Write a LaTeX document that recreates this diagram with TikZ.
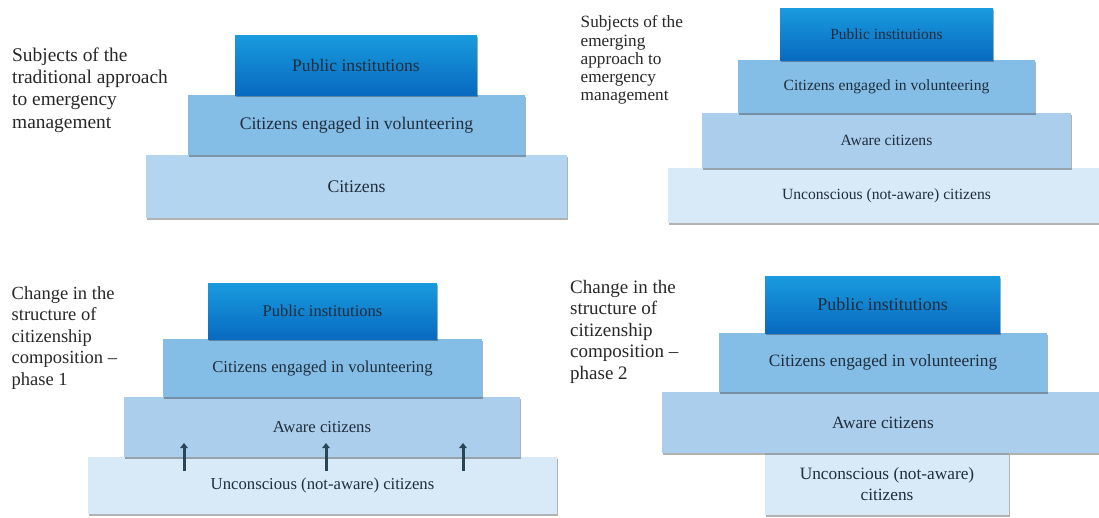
\documentclass[tikz,border=0pt]{standalone}
\usepackage{fontspec}
\setmainfont{Liberation Serif}
\usetikzlibrary{shadows,arrows.meta}
\definecolor{pubtop}{RGB}{25,155,222}
\definecolor{pubbot}{RGB}{8,106,192}
\definecolor{volc}{RGB}{132,190,231}
\definecolor{awarec}{RGB}{170,206,236}
\definecolor{citc}{RGB}{180,213,239}
\definecolor{unconc}{RGB}{216,233,247}
\definecolor{txtc}{RGB}{32,45,60}
\definecolor{ttlc}{RGB}{40,40,40}
\definecolor{arrc}{RGB}{42,70,86}
\tikzset{
  lay/.style={inner sep=0pt, text=txtc, align=center,
    drop shadow={shadow xshift=0.8pt, shadow yshift=-1.6pt, fill=black, opacity=0.3}},
  pubbox/.style={lay, top color=pubtop, bottom color=pubbot},
  volbox/.style={lay, fill=volc},
  awarebox/.style={lay, fill=awarec},
  citbox/.style={lay, fill=citc},
  unconbox/.style={lay, fill=unconc},
  ttl/.style={inner sep=0pt, anchor=north west, align=left, text=ttlc},
  uparr/.style={draw=arrc, line width=3pt, -{Triangle[length=5pt,width=7.5pt]}}
}
\begin{document}
\begin{tikzpicture}[x=1pt,y=-1pt]
\useasboundingbox (0,0) rectangle (1099,517);
\clip (0,0) rectangle (1099,517);
\fill[white] (0,0) rectangle (1099,517);
% ---------- Panel 1 ----------
\node[ttl, font=\fontsize{19.4}{22.3}\selectfont] (t1) at (12,47.5)
  {Subjects of the\\traditional approach\\to emergency\\management};
\node[citbox, minimum width=421pt, minimum height=63pt, font=\fontsize{17.7}{20}\selectfont] (p1cit) at (356.5,186.5) {Citizens};
\node[volbox, minimum width=337pt, minimum height=60pt, font=\fontsize{17.7}{20}\selectfont] (p1vol) at (356.5,125) {Citizens engaged in volunteering};
\node[pubbox, minimum width=242pt, minimum height=60pt, font=\fontsize{17.6}{20}\selectfont] (p1pub) at (356,65) {Public institutions};
% ---------- Panel 2 ----------
\node[ttl, font=\fontsize{17.2}{18.2}\selectfont] (t2) at (580.5,15.5)
  {Subjects of the\\emerging\\approach to\\emergency\\management};
\node[unconbox, minimum width=437pt, minimum height=55pt, font=\fontsize{15.6}{18}\selectfont] (p2unc) at (886.5,195.5) {Unconscious (not-aware) citizens};
\node[awarebox, minimum width=369pt, minimum height=55pt, font=\fontsize{15.6}{18}\selectfont] (p2aw) at (886.5,140.5) {Aware citizens};
\node[volbox, minimum width=297pt, minimum height=53pt, font=\fontsize{15.6}{18}\selectfont] (p2vol) at (886.5,86.5) {Citizens engaged in volunteering};
\node[pubbox, minimum width=213pt, minimum height=52pt, font=\fontsize{15.5}{18}\selectfont] (p2pub) at (886.5,34) {Public institutions};
% ---------- Panel 3 ----------
\node[ttl, font=\fontsize{18.5}{21.5}\selectfont] (t3) at (11.5,286)
  {Change in the\\structure of\\citizenship\\composition --\\phase 1};
\node[unconbox, minimum width=469pt, minimum height=57pt, font=\fontsize{16.7}{19}\selectfont] (p3unc) at (322.5,485.5) {Unconscious (not-aware) citizens};
\node[awarebox, minimum width=396pt, minimum height=60pt, font=\fontsize{16.7}{19}\selectfont] (p3aw) at (322,427) {Aware citizens};
\node[volbox, minimum width=319pt, minimum height=58pt, font=\fontsize{16.7}{19}\selectfont] (p3vol) at (322.5,368) {Citizens engaged in volunteering};
\node[pubbox, minimum width=229pt, minimum height=56pt, font=\fontsize{16.5}{19}\selectfont] (p3pub) at (322.5,311) {Public institutions};
\coordinate (a1s) at (184,471); \coordinate (a1e) at (184,443);
\coordinate (a2s) at (326,471); \coordinate (a2e) at (326,443);
\coordinate (a3s) at (463,471); \coordinate (a3e) at (463,443);
\draw[uparr] (a1s) -- (a1e);
\draw[uparr] (a2s) -- (a2e);
\draw[uparr] (a3s) -- (a3e);
% ---------- Panel 4 ----------
\node[ttl, font=\fontsize{19}{21.5}\selectfont] (t4) at (570,280)
  {Change in the\\structure of\\citizenship\\composition --\\phase 2};
\node[unconbox, minimum width=244pt, minimum height=62pt, font=\fontsize{17.3}{20.5}\selectfont] (p4unc) at (887,484) {Unconscious (not-aware)\\citizens};
\node[awarebox, minimum width=442pt, minimum height=61pt, font=\fontsize{17.3}{20}\selectfont] (p4aw) at (883,422.5) {Aware citizens};
\node[volbox, minimum width=328pt, minimum height=59pt, font=\fontsize{17.3}{20}\selectfont] (p4vol) at (883,362.5) {Citizens engaged in volunteering};
\node[pubbox, minimum width=235pt, minimum height=57pt, font=\fontsize{18}{20}\selectfont] (p4pub) at (882.5,304.5) {Public institutions};
\end{tikzpicture}
\end{document}
